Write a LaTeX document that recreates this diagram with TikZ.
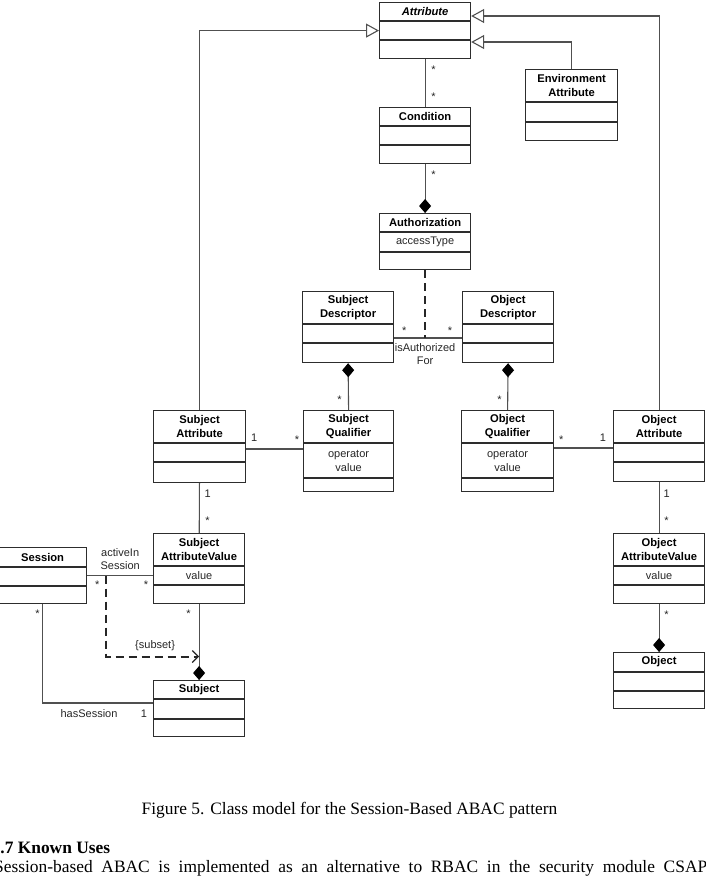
\documentclass[tikz,border=0pt]{standalone}
\usepackage{fontspec}
\setmainfont{Liberation Serif}
\setsansfont{Liberation Sans}
\usetikzlibrary{arrows.meta, positioning}
\definecolor{umlbox}{RGB}{45,45,45}
\definecolor{umlline}{RGB}{80,80,80}

% one UML class: id, left, top, width, three compartment heights, name, attributes
\newcommand{\umlclass}[9]{%
  \pgfmathsetmacro{\classh}{#5+#6+#7}%
  \pgfmathsetmacro{\classdiv}{#5+#6}%
  \pgfmathsetmacro{\namey}{#5/2}%
  \pgfmathsetmacro{\attry}{#5+#6/2}%
  \node[classframe, minimum width=#4pt, minimum height=\classh pt] (#1) at (#2,#3) {};
  \draw[divider] ([yshift=-#5pt]#1.north west) -- ([yshift=-#5pt]#1.north east);
  \draw[divider] ([yshift=-\classdiv pt]#1.north west) -- ([yshift=-\classdiv pt]#1.north east);
  \node[classtitle] (#1-name) at ([yshift=-\namey pt]#1.north) {#8};
  \node[classattr] (#1-attr) at ([yshift=-\attry pt]#1.north) {#9};
}

\tikzset{
  classframe/.style={draw=umlbox, line width=1.2pt, inner sep=0pt, anchor=north west},
  divider/.style={draw=umlbox, line width=1.1pt},
  classtitle/.style={font=\sffamily\bfseries\fontsize{11.2}{14}\selectfont, align=center, inner sep=0pt},
  classattr/.style={font=\sffamily\fontsize{11}{14}\selectfont, align=center, inner sep=0pt, text=black!85},
  assoc/.style={draw=umlline, line width=1.1pt},
  gen/.style={assoc, -{Triangle[open, length=13pt, width=14pt, fill=white]}},
  comp/.style={assoc, -{Diamond[length=14pt, width=12pt, black]}},
  mult/.style={font=\sffamily\fontsize{11}{13}\selectfont, inner sep=0pt, text=black!85, align=center},
  dashlink/.style={draw=black!85, line width=2pt, dash pattern=on 8pt off 5pt},
  subsettip/.style={-{Straight Barb[length=6pt, width=12pt, line width=1.2pt]}},
}

\begin{document}
\begin{tikzpicture}[x=1pt, y=-1pt]
\useasboundingbox (0,0) rectangle (706,883);

% ---- classes ----
\umlclass{attr}{379}{2}{91}{19}{19}{18}{\itshape Attribute}{}
\umlclass{env}{525}{69}{92}{33}{20}{18}{Environment\\Attribute}{}
\umlclass{cond}{379}{107}{91}{19}{19}{18}{Condition}{}
\umlclass{auth}{379}{213}{91}{19}{20}{17}{Authorization}{accessType}
\umlclass{sdesc}{302}{291}{91}{33}{19}{19}{Subject\\Descriptor}{}
\umlclass{odesc}{462}{291}{91}{33}{19}{19}{Object\\Descriptor}{}
\umlclass{sattr}{153}{410}{92}{33}{19}{20}{Subject\\Attribute}{}
\umlclass{squal}{303}{410}{90}{33}{35}{13}{Subject\\Qualifier}{operator\\value}
\umlclass{oqual}{461}{410}{92}{33}{35}{13}{Object\\Qualifier}{operator\\value}
\umlclass{oattr}{613}{410}{91}{33}{19}{19}{Object\\Attribute}{}
\umlclass{sav}{153}{533}{91}{33}{19}{18}{Subject\\AttributeValue}{value}
\umlclass{oav}{613}{533}{91}{33}{19}{18}{Object\\AttributeValue}{value}
\umlclass{sess}{-2}{547}{88}{20}{19}{17}{Session}{}
\umlclass{subj}{153}{680}{91}{19}{20}{17}{Subject}{}
\umlclass{obj}{613}{652}{91}{20}{19}{17}{Object}{}

% ---- generalizations ----
\draw[gen] (sattr.north) |- (attr.west);
\draw[gen] (oattr.north) |- ([yshift=-14pt]attr.north east);
\draw[gen] (env.north) |- ([yshift=-40pt]attr.north east);

% ---- associations ----
\draw[assoc] (attr) -- (cond);
\draw[comp] (cond.south) -- (auth.north);
\draw[assoc] ([yshift=-47pt]sdesc.north east) -- ([yshift=-47pt]odesc.north west) coordinate[midway] (authlink);
\draw[dashlink] (auth.south) -- (auth.south |- authlink);
\draw[comp] (squal.north) -- (sdesc.south);
\draw[comp] (oqual.north) -- (odesc.south);
\draw[assoc] ([yshift=-39pt]sattr.north east) -- ([yshift=-39pt]squal.north west);
\draw[assoc] ([yshift=-38pt]oqual.north east) -- ([yshift=-38pt]oattr.north west);
\draw[assoc] (sattr) -- (sav);
\draw[assoc] (oattr) -- (oav);
\draw[comp] (oav.south) -- (obj.north);
\draw[assoc] (sess.east) -- (sess.east -| sav.west) coordinate[pos=0.28] (avmid);
\draw[comp] (sav.south) -- (subj.north) coordinate[pos=0.69] (subsetpt);
\draw[dashlink, subsettip] (avmid) |- (subsetpt);
\draw[assoc] (sess.south) |- ([yshift=-23pt]subj.north west);

% ---- multiplicities and role names ----
\node[mult] (m1) at ([xshift=8.5pt, yshift=-11pt]attr.south) {*};
\node[mult] (m2) at ([xshift=8.5pt, yshift=10pt]cond.north) {*};
\node[mult] (m3) at ([xshift=8.5pt, yshift=-11pt]cond.south) {*};
\node[mult] (m4) at ([xshift=10pt, yshift=-40pt]sdesc.north east) {*};
\node[mult] (m5) at ([xshift=-12pt, yshift=-40pt]odesc.north west) {*};
\node[mult] (isauth) at ([yshift=-16pt]auth.south |- authlink) {isAuthorized\\For};
\node[mult] (m6) at ([xshift=-9pt, yshift=10pt]squal.north) {*};
\node[mult] (m7) at ([xshift=-8pt, yshift=10pt]oqual.north) {*};
\node[mult] (m8) at ([xshift=8pt, yshift=-28pt]sattr.north east) {1};
\node[mult] (m9) at ([xshift=-6pt, yshift=-30pt]squal.north west) {*};
\node[mult] (m10) at ([xshift=7pt, yshift=-30pt]oqual.north east) {*};
\node[mult] (m11) at ([xshift=-10pt, yshift=-28pt]oattr.north west) {1};
\node[mult] (m12) at ([xshift=8pt, yshift=-11pt]sattr.south) {1};
\node[mult] (m13) at ([xshift=8.5pt, yshift=12pt]sav.north) {*};
\node[mult] (m14) at ([xshift=7.5pt, yshift=-12pt]oattr.south) {1};
\node[mult] (m15) at ([xshift=7.5pt, yshift=12pt]oav.north) {*};
\node[mult] (m16) at ([xshift=7.5pt, yshift=-11pt]oav.south) {*};
\node[mult] (active) at ([xshift=33pt, yshift=-12pt]sess.north east) {activeIn\\Session};
\node[mult] (m17) at ([xshift=10pt, yshift=-38pt]sess.north east) {*};
\node[mult] (m18) at ([xshift=-7pt, yshift=-52pt]sav.north west) {*};
\node[mult] (subset) at ([xshift=-44pt, yshift=11pt]subsetpt) {\{subset\}};
\node[mult] (m19) at ([xshift=-10.5pt, yshift=-10pt]sav.south) {*};
\node[mult] (m20) at ([xshift=-5pt, yshift=-10pt]sess.south) {*};
\node[mult] (m21) at ([xshift=-9pt, yshift=-34pt]subj.north west) {1};
\node[mult] (hassess) at ([xshift=-64pt, yshift=-34pt]subj.north west) {hasSession};

% ---- caption and page text ----
\node[anchor=base, inner sep=0pt, font=\fontsize{17.4}{20}\selectfont] (caption) at (349.5,814)
  {Figure 5. Class model for the Session-Based ABAC pattern};
\node[anchor=base west, inner sep=0pt, font=\bfseries\fontsize{17.4}{20}\selectfont] (heading) at (-8.5,853)
  {4.7 Known Uses};
\node[anchor=base west, inner sep=0pt, font=\fontsize{17.4}{20}\selectfont] (bodyline) at (-6,872)
  {\makebox[713pt][s]{Session-based ABAC is implemented as an alternative to RBAC in the security module CSAP}};
\end{tikzpicture}
\end{document}
